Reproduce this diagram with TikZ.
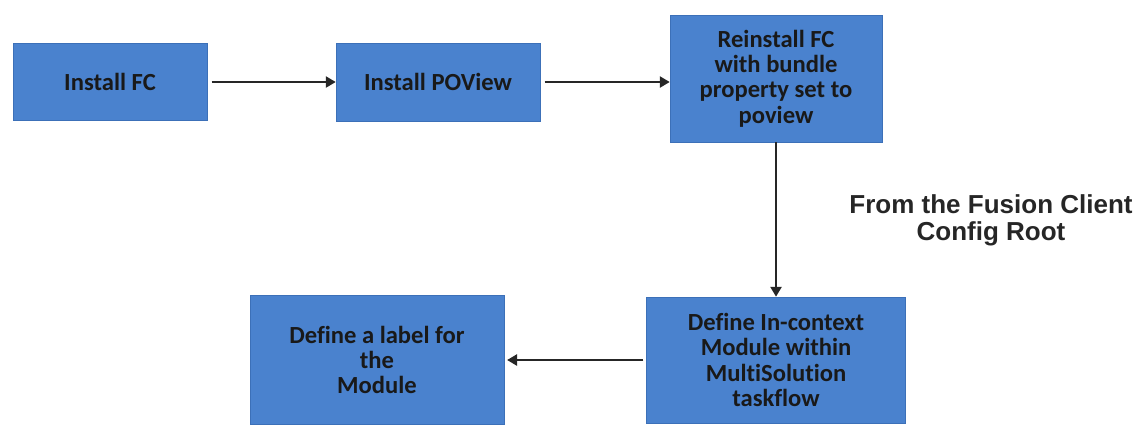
\documentclass[tikz,border=0pt]{standalone}
\usepackage{fontspec}
\setmainfont{Carlito}[Ligatures=NoCommon]
\newfontfamily\notefont{Liberation Sans}
\usetikzlibrary{arrows,arrows.meta}

\definecolor{boxblue}{RGB}{74,130,206}
\definecolor{boxedge}{RGB}{60,112,184}

\begin{document}
\begin{tikzpicture}[
stepbox/.style={fill=boxblue,draw=boxedge,line width=0.5pt,align=center,
  text=black!90,inner sep=0pt,font=\bfseries\fontsize{17.5}{18}\selectfont},
note/.style={align=center,text=black!85,font=\notefont\bfseries\fontsize{18.5}{19}\selectfont},
arrow/.style={-{Triangle[length=7pt,width=8pt]},line width=1.2pt,black!85}]

\useasboundingbox (0,0) rectangle (28.675,-11.05);

\node[stepbox,minimum width=4.85cm,minimum height=1.925cm] (A) at (2.75,-2.05) {Install FC};

\node[stepbox,minimum width=5.1cm,minimum height=1.95cm] (B) at (10.95,-2.05) {Install POView};

\node[stepbox,minimum width=5.3cm,minimum height=3.175cm] (C) at (19.4,-1.96)
  {Reinstall FC\\with bundle\\property set to\\poview};

\node[stepbox,minimum width=6.475cm,minimum height=3.15cm] (D) at (19.4,-9.0)
  {Define In-context\\Module within\\MultiSolution\\taskflow};

\node[stepbox,minimum width=6.35cm,minimum height=3.225cm] (E) at (9.425,-9.0)
  {Define a label for\\the\\Module};

\node[note] (N) at (24.775,-5.5) {From the Fusion Client\\Config Root};

\draw[arrow,shorten <=3pt] (A) -- (B);

\draw[arrow,shorten <=3pt] (B.east) -- (B.east -| C.west);

\draw[arrow] (C) -- (D);

\draw[arrow,shorten <=2pt,shorten >=2pt] (D) -- (E);

\end{tikzpicture}
\end{document}
